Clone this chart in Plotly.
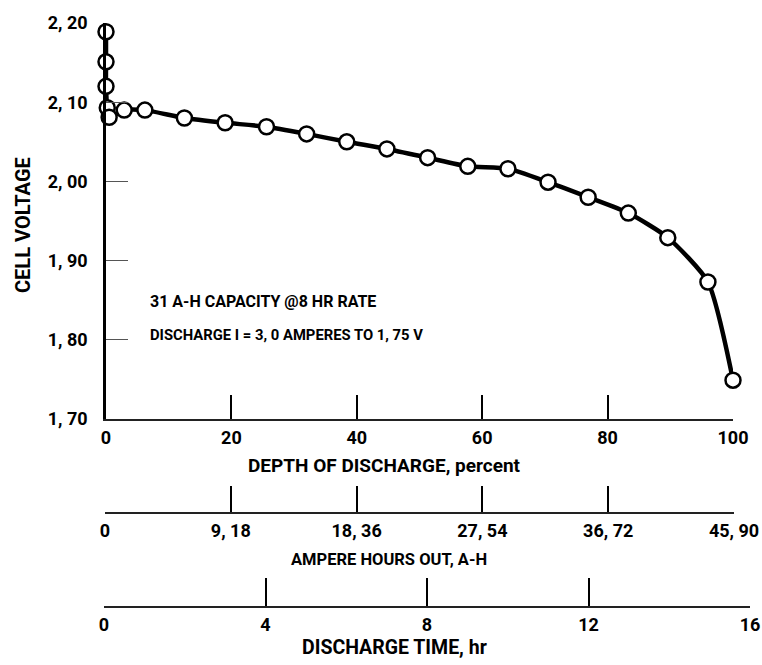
import plotly.graph_objects as go

# ---- data ----
depth_pct = [0, 0, 0, 0.2, 0.5, 2.9, 6.2, 12.5, 19.0, 25.6, 32.0, 38.4, 44.8,
             51.3, 57.7, 64.1, 70.5, 76.9, 83.3, 89.6, 96.0, 100]
cell_voltage = [2.189, 2.151, 2.120, 2.093, 2.081, 2.090, 2.090, 2.080, 2.074,
                2.069, 2.060, 2.050, 2.041, 2.030, 2.019, 2.016, 1.999, 1.980,
                1.960, 1.929, 1.873, 1.749]

v_ticks = [1.70, 1.80, 1.90, 2.00, 2.10, 2.20]
v_labels = ["1, 70", "1, 80", "1, 90", "2, 00", "2, 10", "2, 20"]
pct_ticks = [0, 20, 40, 60, 80, 100]
ah_ticks = [0, 9.18, 18.36, 27.54, 36.72, 45.90]
ah_labels = ["0", "9, 18", "18, 36", "27, 54", "36, 72", "45, 90"]
hr_ticks = [0, 4, 8, 12, 16]

W, H = 762, 665
FONT = "Roboto, Liberation Sans, sans-serif"


def px(x):
    return x / W


def py(y):
    return 1 - y / H


fig = go.Figure()

fig.add_trace(go.Scatter(
    x=depth_pct, y=cell_voltage, mode="lines+markers",
    line=dict(color="black", width=4.5, shape="spline", smoothing=0.6),
    marker=dict(symbol="circle", size=15, color="white",
                line=dict(color="black", width=2.5)),
    cliponaxis=False, hoverinfo="skip", showlegend=False,
))
# carriers for the secondary scales
fig.add_trace(go.Scatter(x=ah_ticks, y=[None] * len(ah_ticks), xaxis="x2",
                         yaxis="y", mode="markers", showlegend=False,
                         hoverinfo="skip"))
fig.add_trace(go.Scatter(x=hr_ticks, y=[None] * len(hr_ticks), xaxis="x3",
                         yaxis="y", mode="markers", showlegend=False,
                         hoverinfo="skip"))

tickfont = dict(family=FONT, size=18, color="black", weight="bold")
common = dict(showgrid=False, zeroline=False, showline=True, ticks="inside",
              tickfont=tickfont, fixedrange=True, automargin=False)

fig.update_layout(
    template="none",
    width=W, height=H,
    margin=dict(l=0, r=0, t=0, b=0, pad=0, autoexpand=False),
    paper_bgcolor="white", plot_bgcolor="rgba(0,0,0,0)",
    showlegend=False,
    xaxis=dict(domain=[px(106), px(733)], range=[0, 100], anchor="y",
               tickvals=pct_ticks, ticklen=24, tickwidth=2, tickcolor="black",
               linecolor="#222", linewidth=1.5, ticklabelstandoff=2, **common),
    yaxis=dict(domain=[py(419), py(23)], range=[1.70, 2.20], anchor="x",
               tickvals=v_ticks, ticktext=v_labels, ticklen=22, tickwidth=1,
               tickcolor="#555", linecolor="black", linewidth=2.5,
               ticklabelstandoff=12, **common),
    xaxis2=dict(domain=[px(105), px(734)], range=[0, 45.9], anchor="free",
                position=py(513), tickvals=ah_ticks, ticktext=ah_labels,
                ticklen=26, tickwidth=2, tickcolor="black", linecolor="#222",
                linewidth=1.5, ticklabelstandoff=2, **common),
    xaxis3=dict(domain=[px(104), px(750)], range=[0, 16], anchor="free",
                position=py(607), tickvals=hr_ticks, ticklen=28, tickwidth=2,
                tickcolor="black", linecolor="#222", linewidth=1.5,
                ticklabelstandoff=2, **common),
)

ann = [
    dict(text="CELL VOLTAGE", x=px(23), y=py(225), textangle=-90, size=20),
    dict(text="DEPTH OF DISCHARGE, percent", x=px(384), y=py(465), size=19),
    dict(text="AMPERE HOURS OUT, A-H", x=px(389), y=py(559), size=16.5),
    dict(text="DISCHARGE TIME, hr", x=px(394), y=py(647), size=19.5),
    dict(text="31 A-H CAPACITY @8 HR RATE", x=px(148), y=py(301),
         xanchor="left", size=16),
    dict(text="DISCHARGE I = 3, 0 AMPERES TO 1, 75 V", x=px(148), y=py(335),
         xanchor="left", size=14.8),
]
for a in ann:
    a.setdefault("xanchor", "center")
    size = a.pop("size")
    fig.add_annotation(xref="paper", yref="paper", yanchor="middle",
                       showarrow=False,
                       font=dict(family=FONT, size=size, color="black",
                                 weight="bold"), **a)

fig.write_html("out.html")
